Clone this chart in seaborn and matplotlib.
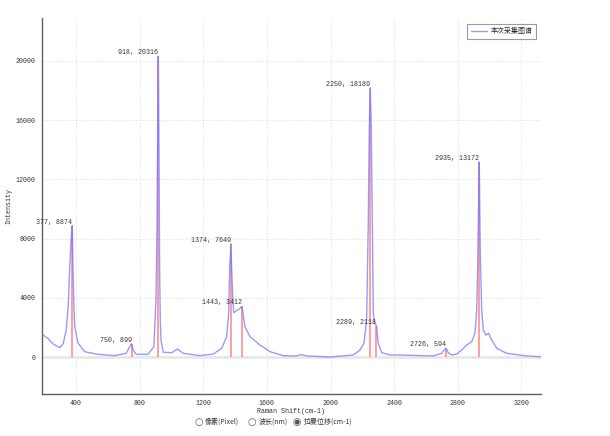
"""
Raman spectrum with labelled peaks.
"""

import matplotlib.pyplot as plt
import seaborn as sns
from matplotlib.ticker import MultipleLocator

# spectrum (Raman shift cm-1, intensity)
shift = [
    185, 224, 256, 298, 320, 339, 352, 361, 368, 374, 377, 381, 388, 392,
    413, 455, 539, 643, 716, 738, 750, 759, 779, 853, 890, 903, 910, 914,
    918, 922, 926, 930, 935, 949, 1002, 1037, 1075, 1180, 1263, 1316, 1347,
    1360, 1366, 1374, 1379, 1387, 1393, 1414, 1425, 1435, 1443, 1452, 1462,
    1494, 1557, 1620, 1703, 1780, 1819, 1850, 1997, 2143, 2185, 2210, 2227,
    2237, 2244, 2250, 2256, 2263, 2269, 2278, 2289, 2300, 2322, 2374, 2437,
    2646, 2699, 2715, 2726, 2740, 2761, 2793, 2824, 2856, 2887, 2908, 2919,
    2925, 2931, 2935, 2941, 2950, 2960, 2977, 2994, 3013, 3045, 3107, 3233,
    3323,
]
intensity = [
    1550, 1260, 880, 630, 900, 1820, 3500, 6100, 7600, 8600, 8874, 6100,
    3170, 2050, 940, 360, 180, 90, 250, 700, 899, 470, 180, 180, 700, 3850,
    9000, 16000, 20316, 14000, 6000, 2500, 1100, 320, 290, 540, 250, 90,
    200, 590, 1370, 2950, 5870, 7649, 5870, 3640, 2990, 3170, 3220, 3330,
    3412, 2800, 2045, 1370, 810, 360, 90, 70, 160, 70, 0, 135, 470, 920,
    2500, 8790, 15540, 18189, 15540, 8790, 2970, 2270, 2118, 920, 290, 135,
    135, 70, 250, 470, 594, 290, 135, 200, 470, 810, 1030, 1600, 3170, 6100,
    10590, 13172, 7220, 3170, 1820, 1480, 1600, 1150, 590, 250, 70, 20,
]

peak_x = [377, 750, 918, 1374, 1443, 2250, 2289, 2726, 2935]
peak_y = [8874, 899, 20316, 7649, 3412, 18189, 2118, 594, 13172]

mono = "Liberation Mono"
cjk = ["Noto Sans CJK SC", "DejaVu Sans"]


def run_plot():

    sns.set_style("white")

    fig = plt.figure(figsize=(6.1, 4.36), dpi=100)
    ax = fig.add_axes([0.0684, 0.0963, 0.8185, 0.8624])

    ax.axhline(0, color="#e8e8e8", lw=2, zorder=1)

    ax.vlines(peak_x, 0, peak_y, color="#ff7070", lw=1.1,
              alpha=0.85, zorder=2)

    sns.lineplot(
        x=shift,
        y=intensity,
        ax=ax,
        color="#6e6eff",
        lw=1.0,
        alpha=0.7,
        sort=False,
        estimator=None,
        label="本次采集图谱",
        zorder=3
    )

    for px, py in zip(peak_x, peak_y):
        ax.text(px, py, f"{px}, {py}", ha="right", va="bottom",
                fontsize=4.8, family=mono, color="#333333")

    ax.set_xlim(185, 3323)
    ax.set_ylim(-2500, 22900)

    ax.xaxis.set_major_locator(MultipleLocator(400))
    ax.xaxis.set_minor_locator(MultipleLocator(100))
    ax.yaxis.set_major_locator(MultipleLocator(4000))
    ax.yaxis.set_minor_locator(MultipleLocator(1000))

    ax.grid(True, which="major", color="#e2e2e2", ls=(0, (2, 2)), lw=0.6)

    for side in ["top", "right"]:
        ax.spines[side].set_visible(False)
    for side in ["left", "bottom"]:
        ax.spines[side].set_color("#606060")
        ax.spines[side].set_linewidth(1)

    ax.tick_params(which="major", direction="out", length=3, width=0.8,
                   color="#606060", labelsize=4.8, labelcolor="#333333",
                   pad=1.5)
    ax.tick_params(which="minor", direction="in", length=2, width=0.6,
                   color="#606060")
    for lab in ax.get_xticklabels() + ax.get_yticklabels():
        lab.set_family(mono)

    ax.set_xlabel("Raman Shift(cm-1)", fontsize=4.8, family=mono,
                  color="#333333")
    ax.set_ylabel("Intensity", fontsize=4.8, family=mono,
                  color="#333333")
    ax.xaxis.set_label_coords(0.5, -0.038)
    ax.yaxis.set_label_coords(-0.058, 0.5)

    leg = ax.legend(
        loc="upper right",
        bbox_to_anchor=(0.879, 0.945),
        bbox_transform=fig.transFigure,
        borderaxespad=0,
        fancybox=False,
        framealpha=1,
        edgecolor="#9a9a9a",
        handlelength=2.3,
        handletextpad=0.6,
        borderpad=0.5,
        prop={"family": cjk, "size": 5}
    )
    leg.get_frame().set_linewidth(0.8)

    # radio buttons under the chart
    yb = 1 - 422 / 436
    opts = [
        (199, "○", 205, "像素(Pixel)"),
        (252, "○", 259, "波长(nm)"),
        (297, "◉", 304, "拉曼位移(cm-1)"),
    ]
    for cx, mark, tx, txt in opts:
        fig.text(cx / 610, yb, mark, ha="center", va="center",
                 fontsize=7, family=["DejaVu Sans"], color="#555555")
        fig.text(tx / 610, yb, txt, ha="left", va="center",
                 fontsize=5, family=cjk, color="#333333")

    fig.savefig("out.png", dpi=100, facecolor="white")


if __name__ == "__main__":
    run_plot()
